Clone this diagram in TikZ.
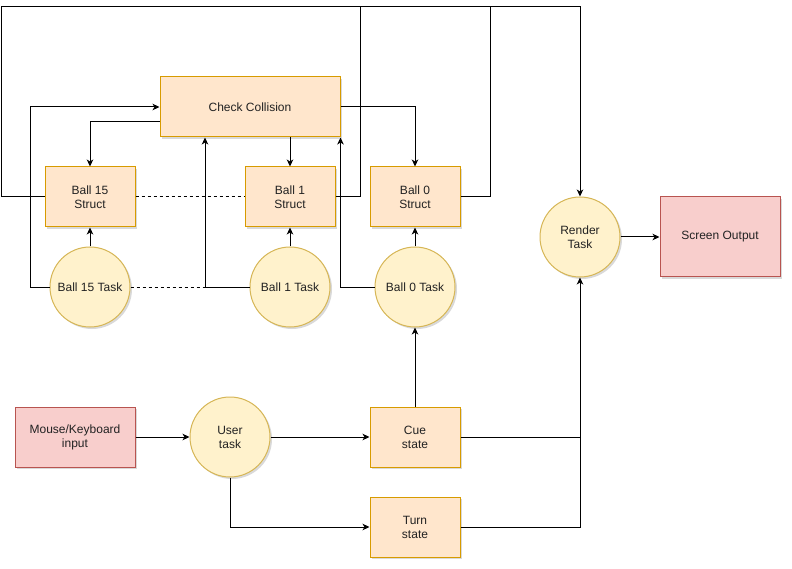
\documentclass[tikz,border=0pt]{standalone}
\usepackage{fontspec}
\setmainfont{Liberation Sans}
\usetikzlibrary{arrows.meta,shadows}

\definecolor{orgfill}{HTML}{FFE6CC}
\definecolor{orgdraw}{HTML}{D79B00}
\definecolor{ylwfill}{HTML}{FFF2CC}
\definecolor{ylwdraw}{HTML}{D6B656}
\definecolor{redfill}{HTML}{F8CECC}
\definecolor{reddraw}{HTML}{B85450}
\definecolor{txt}{HTML}{222222}

\tikzset{
  base/.style={line width=1pt, inner sep=0pt, align=center, text=txt,
    font=\fontsize{12}{14}\selectfont,
    drop shadow={shadow xshift=2pt, shadow yshift=-2pt, opacity=0.15, fill=black}},
  structbox/.style={base, rectangle, draw=orgdraw, fill=orgfill,
    minimum width=90pt, minimum height=60pt},
  taskcircle/.style={base, circle, draw=ylwdraw, fill=ylwfill, minimum size=80pt},
  iobox/.style={base, rectangle, draw=reddraw, fill=redfill, minimum height=60pt},
  link/.style={line width=1pt, draw=black},
  arr/.style={link, -{Stealth[length=7pt, width=6.5pt, inset=2pt]}},
  dotted link/.style={link, dashed, dash pattern=on 3pt off 3pt},
}

\begin{document}
\begin{tikzpicture}[x=1pt, y=-1pt]
\useasboundingbox (0,0) rectangle (792,569);

% boxes
\node[structbox, minimum width=180pt] (check) at (250,107) {Check Collision};
\node[structbox] (s15) at (90,197) {Ball 15\\Struct};
\node[structbox] (s1)  at (290,197) {Ball 1\\Struct};
\node[structbox] (s0)  at (415,197) {Ball 0\\Struct};
\node[taskcircle] (t15) at (90,287) {Ball 15 Task};
\node[taskcircle] (t1)  at (290,287) {Ball 1 Task};
\node[taskcircle] (t0)  at (415,287) {Ball 0 Task};
\node[taskcircle] (render) at (580,237) {Render\\Task};
\node[iobox, minimum width=120pt, minimum height=80pt] (screen) at (720,237) {Screen Output};
\node[iobox, minimum width=120pt] (mouse) at (75,437) {Mouse/Keyboard\\input};
\node[taskcircle] (user) at (230,437) {User\\task};
\node[structbox] (cue)  at (415,437) {Cue\\state};
\node[structbox] (turn) at (415,527) {Turn\\state};

% routing points
\coordinate (railL) at (1,7);
\coordinate (up1) at (360,7);
\coordinate (up0) at (490,7);
\coordinate (railB) at (30,107);
\coordinate (j1) at (205,287);

% struct outputs feed the render task
\draw[arr] (s15.west) -| (railL) -| (render.north);
\draw[link] (s1.east) -| (up1);
\draw[link] (s0.east) -| (up0);

% tasks into collision check
\draw[arr] (t15.west) -| (railB) -- (check.west);
\draw[link] (t1.west) -- (j1);
\draw[arr] (j1) -- (j1 |- check.south);
\draw[arr] (t0.west) -| (check.south east);

% collision check back to structs
\draw[arr] ([yshift=-15pt]check.west) -| (s15.north);
\draw[arr] (check.south -| s1.north) -- (s1.north);
\draw[arr] (check.east) -| (s0.north);

% tasks update structs
\draw[arr] (t15.north) -- (s15.south);
\draw[arr] (t1.north) -- (s1.south);
\draw[arr] (t0.north) -- (s0.south);

% elided balls
\draw[dotted link] (s15.east) -- (s1.west);
\draw[dotted link] (t15.east) -- (j1);

% user input chain
\draw[arr] (mouse.east) -- (user.west);
\draw[arr] (user.east) -- (cue.west);
\draw[arr] (user.south) |- (turn.west);
\draw[arr] (cue.north) -- (t0.south);
\draw[link] (cue.east) -- (cue.east -| render.south);
\draw[arr] (turn.east) -| (render.south);
\draw[arr] (render.east) -- (screen.west);
\end{tikzpicture}
\end{document}
